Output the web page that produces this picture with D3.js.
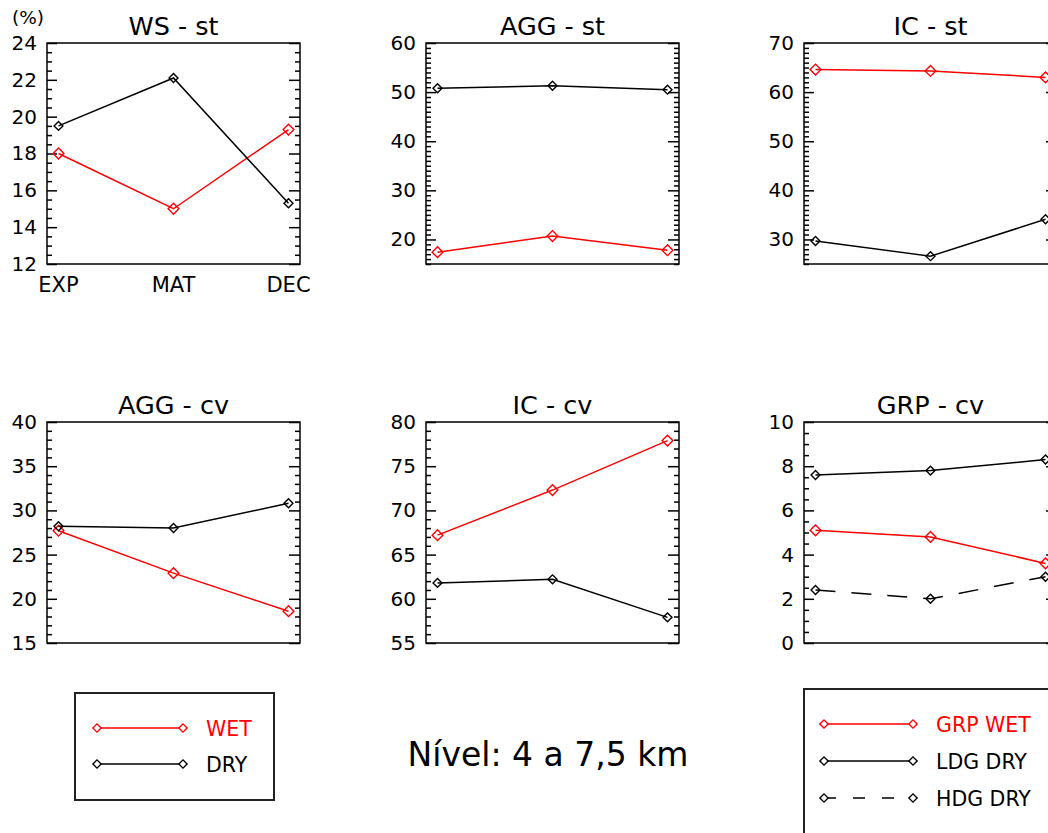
<!DOCTYPE html>
<html>
<head>
<meta charset="utf-8">
<script src="https://cdn.jsdelivr.net/npm/d3@7"></script>
<style>
  body { margin: 0; background: #fff; overflow: hidden; }
  text { font-family: "DejaVu Sans", sans-serif; }
</style>
</head>
<body>
<script>
// categories and values
const categories = ["EXP", "MAT", "DEC"];

const wsStWet = [18.0, 15.0, 19.3];
const wsStDry = [19.5, 22.1, 15.3];

const aggStWet = [17.4, 20.7, 17.8];
const aggStDry = [50.8, 51.3, 50.5];

const icStWet = [64.6, 64.3, 63.0];
const icStDry = [29.7, 26.6, 34.1];

const aggCvWet = [27.7, 22.9, 18.6];
const aggCvDry = [28.2, 28.0, 30.8];

const icCvWet = [67.2, 72.3, 77.9];
const icCvDry = [61.8, 62.2, 57.9];

const grpCvWet = [5.1, 4.8, 3.6];
const grpCvLdg = [7.6, 7.8, 8.3];
const grpCvHdg = [2.4, 2.0, 3.0];

const svgWidth = 1048;
const svgHeight = 833;

const colX = [47, 426, 804];
const rowY = [43, 422];
const pw = 253, ph = 221;

const panels = [
    { title: "WS - st", col: 0, row: 0, domain: [12, 24], major: 2, minor: 0.5, xlab: true,
      series: [{ v: wsStWet, c: "red" }, { v: wsStDry, c: "black" }] },
    { title: "AGG - st", col: 1, row: 0, domain: [15, 60], major: 10, minor: 1, majorStart: 20,
      series: [{ v: aggStWet, c: "red" }, { v: aggStDry, c: "black" }] },
    { title: "IC - st", col: 2, row: 0, domain: [25, 70], major: 10, minor: 1, majorStart: 30,
      series: [{ v: icStWet, c: "red" }, { v: icStDry, c: "black" }] },
    { title: "AGG - cv", col: 0, row: 1, domain: [15, 40], major: 5, minor: 1,
      series: [{ v: aggCvWet, c: "red" }, { v: aggCvDry, c: "black" }] },
    { title: "IC - cv", col: 1, row: 1, domain: [55, 80], major: 5, minor: 1,
      series: [{ v: icCvWet, c: "red" }, { v: icCvDry, c: "black" }] },
    { title: "GRP - cv", col: 2, row: 1, domain: [0, 10], major: 2, minor: 0.5,
      series: [{ v: grpCvWet, c: "red" }, { v: grpCvLdg, c: "black" }, { v: grpCvHdg, c: "black", dash: "20,16" }] }
];

const svg = d3.select("body").append("svg")
    .attr("width", svgWidth)
    .attr("height", svgHeight);

const diamond = (c) => d3.symbol(d3.symbolSquare, c === "red" ? 58 : 40)();

function steps(lo, hi, step) {
    const out = [];
    for (let k = 0; lo + k * step <= hi + 1e-9; k++) out.push(+(lo + k * step).toFixed(4));
    return out;
}

panels.forEach(p => {
    const g = svg.append("g")
        .attr("transform", `translate(${colX[p.col]},${rowY[p.row]})`);

    const x = d3.scaleLinear().domain([-0.1, 2.1]).range([0, pw]);
    const y = d3.scaleLinear().domain(p.domain).range([ph, 0]);

    const majors = steps(p.majorStart !== undefined ? p.majorStart : p.domain[0], p.domain[1], p.major);
    const minors = steps(p.domain[0], p.domain[1], p.minor).filter(v => !majors.includes(v));

    // minor ticks both sides
    g.append("g").call(d3.axisLeft(y).tickValues(minors).tickSize(-5).tickFormat(""));
    g.append("g").attr("transform", `translate(${pw},0)`)
        .call(d3.axisRight(y).tickValues(minors).tickSize(-5).tickFormat(""));

    // major ticks with labels on left
    g.append("g")
        .call(d3.axisLeft(y).tickValues(majors).tickSize(-10).tickPadding(10).tickFormat(d3.format("d")))
        .attr("font-size", 20)
        .attr("font-family", "DejaVu Sans");
    g.append("g").attr("transform", `translate(${pw},0)`)
        .call(d3.axisRight(y).tickValues(majors).tickSize(-11).tickFormat(""));

    g.selectAll(".domain").remove();
    g.selectAll(".tick line").attr("stroke", "#000").attr("stroke-width", 1.5);
    g.selectAll(".tick text").attr("fill", "#000");

    g.append("rect")
        .attr("width", pw).attr("height", ph)
        .attr("fill", "none").attr("stroke", "#000").attr("stroke-width", 1.5);

    const line = d3.line().x((d, i) => x(i)).y(d => y(d));

    p.series.forEach(s => {
        g.append("path")
            .datum(s.v)
            .attr("d", line)
            .attr("fill", "none")
            .attr("stroke", s.c)
            .attr("stroke-width", 1.5)
            .attr("stroke-dasharray", s.dash || null);

        g.selectAll(null)
            .data(s.v)
            .enter()
            .append("path")
            .attr("d", diamond(s.c))
            .attr("transform", (d, i) => `translate(${x(i)},${y(d)}) rotate(45)`)
            .attr("fill", "none")
            .attr("stroke", s.c)
            .attr("stroke-width", 1.4);
    });

    g.append("text")
        .attr("x", pw / 2)
        .attr("y", -8)
        .attr("text-anchor", "middle")
        .attr("font-size", 25.5)
        .text(p.title);

    if (p.xlab) {
        g.selectAll(null)
            .data(categories)
            .enter()
            .append("text")
            .attr("x", (d, i) => x(i))
            .attr("y", ph + 28)
            .attr("text-anchor", "middle")
            .attr("font-size", 21)
            .text(d => d);
    }
});

svg.append("text")
    .attr("x", 12).attr("y", 24)
    .attr("font-size", 18.5)
    .text("(%)");

// legends
function legend(x0, y0, w, h, items) {
    svg.append("rect")
        .attr("x", x0).attr("y", y0).attr("width", w).attr("height", h)
        .attr("fill", "none").attr("stroke", "#222").attr("stroke-width", 2);
    items.forEach(it => {
        svg.append("line")
            .attr("x1", it.x1).attr("x2", it.x2).attr("y1", it.y).attr("y2", it.y)
            .attr("stroke", it.c).attr("stroke-width", 1.5)
            .attr("stroke-dasharray", it.dash || null);
        [it.x1, it.x2].forEach(px => {
            svg.append("path")
                .attr("d", d3.symbol(d3.symbolSquare, 34)())
                .attr("transform", `translate(${px},${it.y}) rotate(45)`)
                .attr("fill", "#fff").attr("stroke", it.c).attr("stroke-width", 1.4);
        });
        svg.append("text")
            .attr("x", it.x2 + 23).attr("y", it.y + 8)
            .attr("font-size", 20.5)
            .attr("fill", it.c)
            .text(it.label);
    });
}

legend(75, 693, 199, 107, [
    { label: "WET", c: "red", x1: 97, x2: 183, y: 728 },
    { label: "DRY", c: "black", x1: 97, x2: 183, y: 764 }
]);

legend(804, 689, 260, 160, [
    { label: "GRP WET", c: "red", x1: 824, x2: 913, y: 724 },
    { label: "LDG DRY", c: "black", x1: 824, x2: 913, y: 761 },
    { label: "HDG DRY", c: "black", x1: 824, x2: 913, y: 798, dash: "12,17" }
]);

svg.append("text")
    .attr("x", 548).attr("y", 766)
    .attr("text-anchor", "middle")
    .attr("font-size", 33)
    .text("Nível: 4 a 7,5 km");
</script>
</body>
</html>
